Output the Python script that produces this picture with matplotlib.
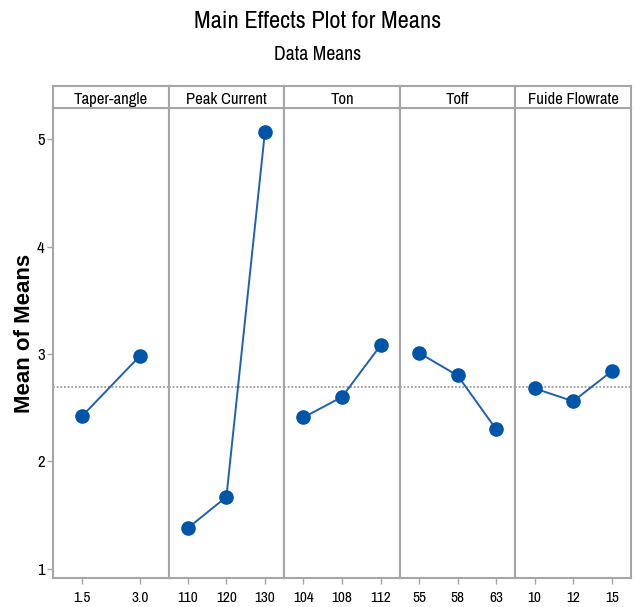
import matplotlib
matplotlib.use("Agg")
import matplotlib.pyplot as plt
from matplotlib import font_manager
from matplotlib.font_manager import FontProperties

# Factor levels and mean response at each level
factors = ["Taper-angle", "Peak Current", "Ton", "Toff", "Fuide Flowrate"]
levels = [
    ["1.5", "3.0"],
    ["110", "120", "130"],
    ["104", "108", "112"],
    ["55", "58", "63"],
    ["10", "12", "15"],
]
means = [
    [2.42, 2.98],
    [1.38, 1.67, 5.07],
    [2.41, 2.60, 3.08],
    [3.01, 2.80, 2.30],
    [2.68, 2.56, 2.84],
]
grand_mean = 2.69
y_ticks = [1, 2, 3, 4, 5]


def condensed_font_file():
    """Pick a narrow regular-weight face if one is installed."""
    cands = []
    for f in font_manager.fontManager.ttflist:
        nm = f.name.lower()
        fn = f.fname.lower()
        if f.style != "normal" or f.weight not in (400, "normal", "regular"):
            continue
        if "bold" in fn or "oblique" in fn or "italic" in fn:
            continue
        if "narrow" in nm or "narrow" in fn:
            cands.append((0, f.fname))
        elif "condensed" in nm or "condensed" in fn or f.stretch in ("condensed", "semi-condensed"):
            if "mono" in fn or "serif" in fn.replace("sans", ""):
                continue
            cands.append((1, f.fname))
    cands.sort()
    return cands[0][1] if cands else None


cond_file = condensed_font_file()


def tfont(size):
    if cond_file:
        return FontProperties(fname=cond_file, size=size)
    return FontProperties(family="DejaVu Sans", size=size * 0.85)


frame_color = "#a6a6a6"
line_color = "#1f5fb4"
marker_color = "#0055a8"

fig = plt.figure(figsize=(6.35, 6.07), dpi=100)

left, right = 53 / 635, 631 / 635
bottom, top = 1 - 578 / 607, 1 - 108 / 607
head_top = 1 - 86 / 607
n = len(factors)
width = (right - left) / n

for i, (name, labs, vals) in enumerate(zip(factors, levels, means)):
    x0 = left + i * width
    ax = fig.add_axes([x0, bottom, width, top - bottom])
    xs = list(range(len(labs)))
    ax.plot(xs, vals, color=line_color, lw=1.4, marker="o", ms=9.5,
            mfc=marker_color, mec=marker_color, zorder=3)
    ax.axhline(grand_mean, color="#8c8c8c", lw=1.1, ls=(0, (1.2, 1.2)), zorder=1)
    ax.set_xlim(-0.5, len(labs) - 0.5)
    ax.set_ylim(0.915, 5.29)
    ax.set_xticks(xs)
    ax.set_xticklabels(labs, fontproperties=tfont(11))
    ax.tick_params(axis="x", length=4, width=1, color=frame_color, pad=5)
    if i == 0:
        ax.set_yticks(y_ticks)
        ax.set_yticklabels([str(t) for t in y_ticks], fontproperties=tfont(12))
        ax.tick_params(axis="y", length=4, width=1, color=frame_color, pad=2)
    else:
        ax.set_yticks([])
    for sp in ax.spines.values():
        sp.set_color(frame_color)
        sp.set_linewidth(1.5)

    # Factor name header box
    hax = fig.add_axes([x0, top, width, head_top - top])
    hax.set_xticks([])
    hax.set_yticks([])
    for sp in hax.spines.values():
        sp.set_color(frame_color)
        sp.set_linewidth(1.5)
    hax.text(0.5, 0.38, name, ha="center", va="center",
             fontproperties=tfont(12), transform=hax.transAxes)

fig.text(0.5, 1 - 22 / 607, "Main Effects Plot for Means", ha="center", va="center",
         fontproperties=tfont(17.6))
fig.text(0.5, 1 - 55 / 607, "Data Means", ha="center", va="center",
         fontproperties=tfont(14.2))
fig.text(25 / 635, 1 - 333 / 607, "Mean of Means", ha="center", va="center",
         rotation=90, fontsize=16, fontweight="bold",
         family=["Liberation Sans", "DejaVu Sans"])

fig.savefig("out.png", dpi=100, facecolor="white")
